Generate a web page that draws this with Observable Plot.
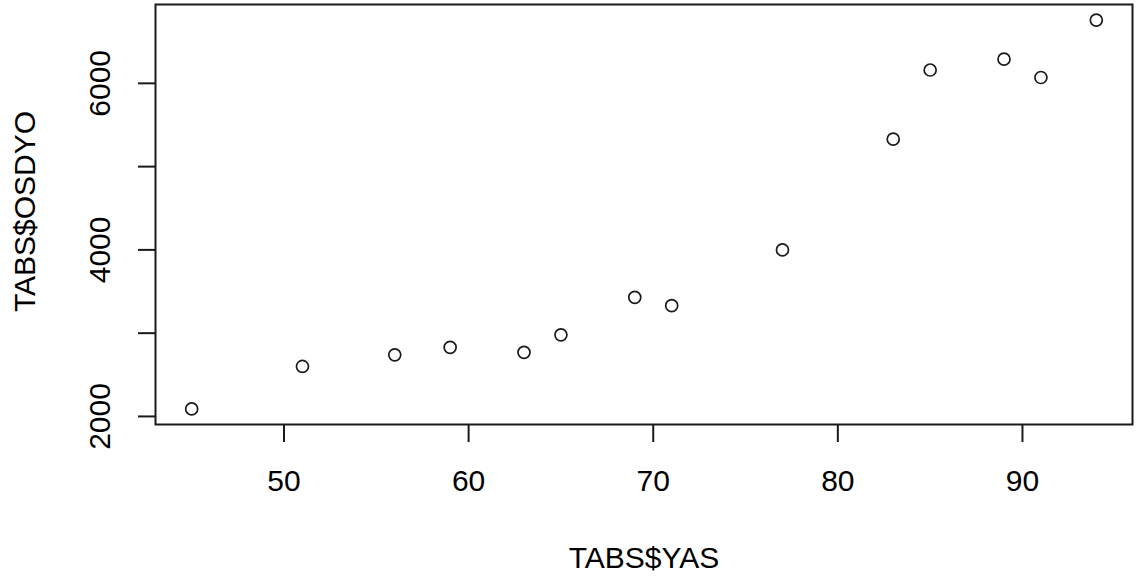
<!DOCTYPE html>
<html>
<head>
<meta charset="utf-8">
<script src="https://cdn.jsdelivr.net/npm/d3@7"></script>
<script src="https://cdn.jsdelivr.net/npm/@observablehq/plot@0.6"></script>
<style>
  html, body { margin: 0; padding: 0; background: #fff; }
  svg { display: block; }
</style>
</head>
<body>
<div id="chart"></div>
<script>
const yas   = [45, 51, 56, 59, 63, 65, 69, 71, 77, 83, 85, 89, 91, 94];
const osdyo = [2090, 2600, 2740, 2830, 2770, 2980, 3430, 3330, 4000, 5330, 6160, 6290, 6070, 6760];
const xTicks = [50, 60, 70, 80, 90];
const yTicks = [2000, 3000, 4000, 5000, 6000];
const yLabels = [2000, 4000, 6000];
const xTitle = "TABS$YAS";
const yTitle = "TABS$OSDYO";

const data = yas.map((v, i) => ({x: v, y: osdyo[i]}));

function padDomain(vals) {
  const [a, b] = d3.extent(vals);
  const p = (b - a) * 0.04;
  return [a - p, b + p];
}

const ink = "#1a1a1a";
const fontSize = 30;

const chart = Plot.plot({
  width: 1142,
  height: 581,
  marginLeft: 155,
  marginRight: 10,
  marginTop: 4,
  marginBottom: 157,
  style: {fontFamily: "'Liberation Sans', Arial, sans-serif", fontSize: fontSize + "px", color: "#000", background: "#fff"},
  x: {domain: padDomain(yas), label: null},
  y: {domain: padDomain(osdyo), label: null},
  marks: [
    Plot.frame({stroke: ink, strokeWidth: 2}),
    Plot.axisX(xTicks, {tickSize: 18, tickPadding: 27, stroke: ink, strokeWidth: 2, label: null, fontSize: fontSize}),
    Plot.axisY(yTicks, {tickSize: 17, tickFormat: () => "", stroke: ink, strokeWidth: 2, label: null}),
    Plot.text(yLabels, {y: d => d, text: d => String(d), frameAnchor: "left", dx: -55.5, rotate: -90, textAnchor: "middle", lineAnchor: "middle", fontSize: fontSize, fill: "#000"}),
    Plot.text([xTitle], {text: d => d, frameAnchor: "bottom", dy: 133.4, lineAnchor: "middle", fontSize: fontSize, fill: "#000"}),
    Plot.text([yTitle], {text: d => d, frameAnchor: "left", dx: -130, dy: -3, rotate: -90, textAnchor: "middle", lineAnchor: "middle", fontSize: fontSize, fill: "#000"}),
    Plot.dot(data, {x: "x", y: "y", r: 6, stroke: ink, strokeWidth: 1.7, fill: "none"})
  ]
});
document.getElementById("chart").appendChild(chart);
</script>
</body>
</html>
